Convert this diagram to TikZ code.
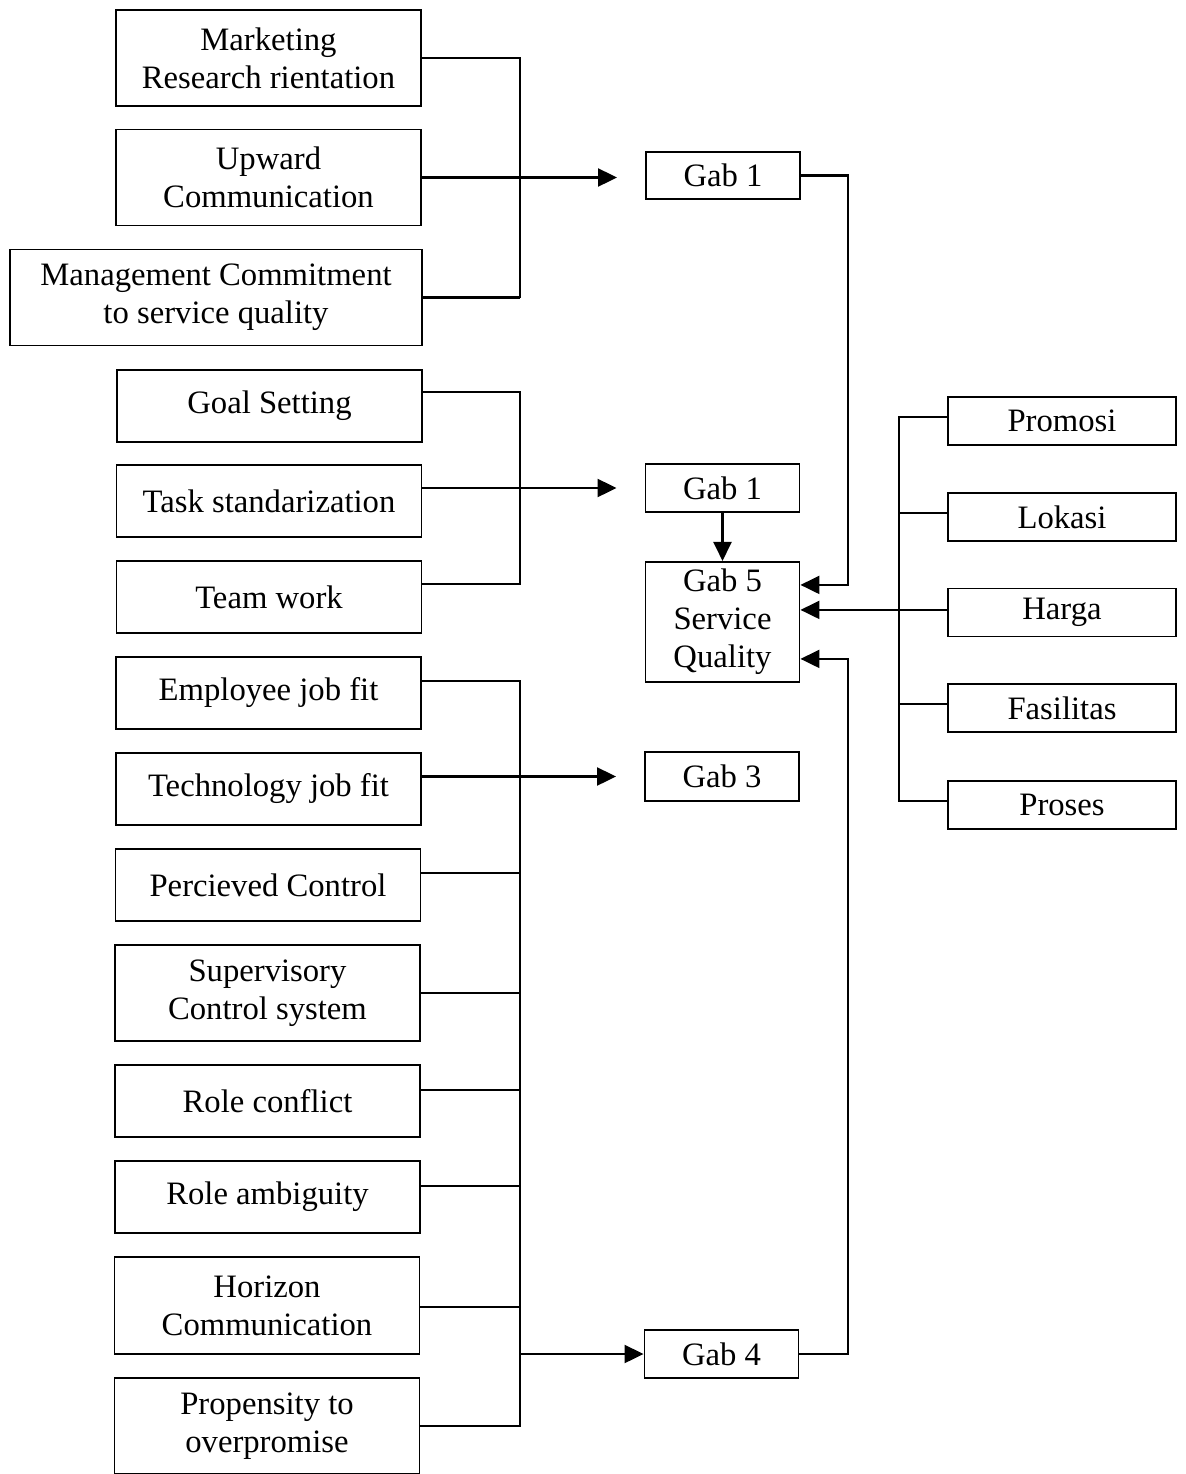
\documentclass[tikz,border=0pt]{standalone}
\usepackage{fontspec}
\setmainfont{Liberation Serif}
\usetikzlibrary{arrows.meta, positioning, calc}

\begin{document}
\begin{tikzpicture}[
                        x=0.02cm, y=-0.02cm,
                        font=\fontsize{18.6}{21.5}\selectfont,
                        box/.style={
                                rectangle, draw, line width=1.1pt,
                                align=center, inner sep=2pt
                            },
                        factor/.style={box, minimum width=6.1cm, minimum height=1.44cm},
                        twoline/.style={factor, minimum height=1.92cm},
                        gab/.style={box, minimum width=3.08cm, minimum height=0.96cm},
                        mix/.style={box, minimum width=4.56cm, minimum height=0.96cm},
                        link/.style={line width=1.2pt},
                        flow/.style={link, -{Triangle[length=0.38cm, width=0.36cm]}}
                    ]

                    \useasboundingbox (0,0) rectangle (1186,1474);

                    % ===== Gab 1 factors (top group) =====
                    \node[twoline] (mro) at (268.5,58) {Marketing\\Research rientation};
                    \node[twoline] (upc) at (268.5,177.5) {Upward\\Communication};
                    \node[twoline, minimum width=8.24cm] (mcs) at (216,297.5) {Management Commitment\\to service quality};

                    % ===== Gab 1 factors (second group) =====
                    \node[factor] (goal) at (269.5,406) {Goal Setting};
                    \node[factor] (task) at (269,501) {Task standarization};
                    \node[factor] (team) at (269,597) {Team work};

                    % ===== Gab 3 / Gab 4 factors =====
                    \node[factor] (ejf) at (268.5,693) {Employee job fit};
                    \node[factor] (tjf) at (268.5,789) {Technology job fit};
                    \node[factor] (pc) at (268,885) {Percieved Control};
                    \node[twoline] (scs) at (267.5,993) {Supervisory\\Control system};
                    \node[factor] (rc) at (267.5,1101) {Role conflict};
                    \node[factor] (ra) at (267.5,1197) {Role ambiguity};
                    \node[twoline, minimum height=1.94cm] (hc) at (267,1305.5) {Horizon\\Communication};
                    \node[twoline] (pto) at (267,1426) {Propensity to\\overpromise};

                    % ===== Gab nodes =====
                    \node[gab, minimum height=0.94cm] (gabA) at (723,175.5) {Gab 1};
                    \node[gab] (gabB) at (722.5,488) {Gab 1};
                    \node[gab, minimum height=2.4cm, below=0.96cm of gabB.south, anchor=north] (gabV) {Gab 5\\Service\\Quality};
                    \node[gab, minimum height=0.98cm] (gabC) at (722,776.5) {Gab 3};
                    \node[gab] (gabD) at (721.5,1354) {Gab 4};

                    % ===== Marketing mix =====
                    \node[mix] (promosi) at (1062,421) {Promosi};
                    \node[mix] (lokasi) at (1062,517) {Lokasi};
                    \node[mix] (harga) at (1062,612.5) {Harga};
                    \node[mix] (fasilitas) at (1062,708) {Fasilitas};
                    \node[mix] (proses) at (1062,805) {Proses};

                    % ===== Bus coordinates =====
                    \coordinate (busA) at (520,297.5);
                    \coordinate (busB) at (520,584);
                    \coordinate (busC) at (520,1427);
                    \coordinate (busR) at (899,801);
                    \coordinate (loopR) at (848,0);
                    \coordinate (inH) at ([yshift=0.24cm]gabV.east);

                    % ===== Arrows =====
                    % top group to Gab 1
                    \foreach \n in {mro, mcs}
                        \draw[link] (\n.east) -| (busA);
                    \draw[flow] (upc.east) -- ([xshift=-0.56cm]gabA.west |- upc.east);

                    % second group to Gab 1
                    \foreach \n/\s in {goal/0.28, team/0.26}
                        \draw[link] ([yshift=\s cm]\n.east) -| (busB);
                    \draw[flow] (task.east |- gabB.west) -- ([xshift=-0.56cm]gabB.west);

                    % lower group to Gab 3 and Gab 4
                    \foreach \n/\s in {ejf/0.24, pc/0.24, scs/0, rc/0.22, ra/0.22, hc/-0.03, pto/0}
                        \draw[link] ([yshift=\s cm]\n.east) -| (busC);
                    \draw[flow] (tjf.east |- gabC.west) -- ([xshift=-0.56cm]gabC.west);
                    \draw[flow] (busC |- gabD.west) -- (gabD.west);

                    % into Gab 5
                    \draw[flow] (gabB) -- (gabV);
                    \draw[flow] (gabA.east) -- (gabA.east -| loopR) |- ([yshift=0.74cm]gabV.east);
                    \draw[flow] (gabD.east) -- (gabD.east -| loopR) |- ([yshift=-0.74cm]gabV.east);

                    % marketing mix to Gab 5
                    \foreach \n in {promosi, lokasi, fasilitas, proses}
                        \draw[link] ([yshift=0.08cm]\n.west) -| (busR);
                    \draw[flow] (harga.west |- inH) -- (inH);

                \end{tikzpicture}
\end{document}
